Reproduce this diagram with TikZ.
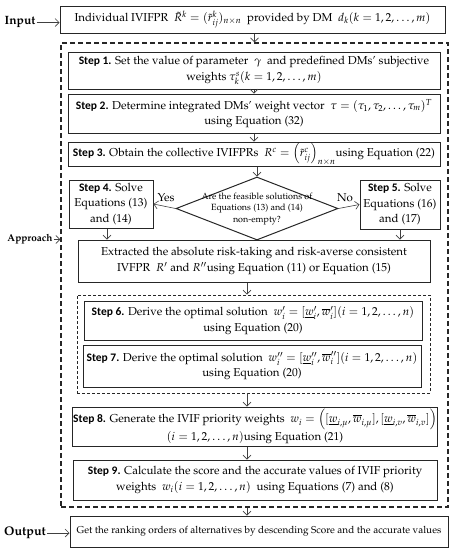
\documentclass[tikz,border=0pt]{standalone}
\usepackage{fontspec}
\newfontfamily\stepfont{Carlito}
\usepackage[T1]{fontenc}
\usepackage{mathpazo}
\usetikzlibrary{arrows.meta,shapes.geometric}
\newcommand\stp[1]{{\stepfont\bfseries #1}}
\begin{document}
\begin{tikzpicture}[x=1pt,y=-1pt,
  box/.style={draw=black!85, line width=1pt, align=center, inner sep=1pt, font=\fontsize{11.5}{15.5}\selectfont},
  arr/.style={-{Straight Barb[length=4pt,width=8pt]}, line width=0.6pt, draw=black!75},
  outerdash/.style={draw=black!85, line width=1.4pt, dash pattern=on 5pt off 3pt},
  innerdash/.style={draw=black!85, line width=0.9pt, dash pattern=on 3pt off 2pt},
  lab/.style={font=\fontsize{12}{14}\selectfont\bfseries, inner sep=1pt},
  yn/.style={font=\fontsize{11.5}{14}\selectfont, inner sep=0pt}]
\useasboundingbox (0,0) rectangle (453,550);
% outer dashed frame
\node[outerdash, minimum width=387pt, minimum height=464pt, inner sep=0pt] (outer) at (254.5,275) {};
% input
\node[box, minimum width=385pt, minimum height=27pt] (in) at (252.5,19.5) {Individual IVIFPR \ $\tilde{R}^{k}=(\tilde{r}_{ij}^{k})_{n\times n}$ \ provided by DM \ $d_k(k=1,2,\dots,m)$};
\node[lab] (inlab) at (20,22.5) {Input};
% steps
\node[box, minimum width=372pt, minimum height=37pt] (s1) at (254,70.5) {\stp{Step 1.} Set the value of parameter \ $\gamma$ \ and predefined DMs' subjective\\ weights $\tau_k^s(k=1,2,\dots,m)$};
\node[box, minimum width=372pt, minimum height=39pt] (s2) at (254,113.5) {\stp{Step 2.} Determine integrated DMs' weight vector \ $\tau=(\tau_1,\tau_2,\dots,\tau_m)^T$\\ using Equation (32)};
\node[box, minimum width=372pt, minimum height=24pt] (s3) at (254,154) {\stp{Step 3.} Obtain the collective IVIFPRs \ $R^c=\left(\tilde{r}_{ij}^c\right)_{n\times n}$using Equation (22)};
\node[draw=black!85, line width=1pt, diamond, minimum width=162pt, minimum height=63pt, inner sep=0pt] (dia) at (257,208.5) {};
\node[align=center, font=\fontsize{9}{11.5}\selectfont, inner sep=0pt] (diatext) at (257,209) {Are the feasible solutions of\\ Equations (13) and (14)\\ non-empty?};
\node[box, minimum width=84pt, minimum height=48pt] (s4) at (111,204) {\stp{Step 4.} Solve\\ Equations (13)\\ and (14)};
\node[box, minimum width=80pt, minimum height=49pt] (s5) at (400,204.5) {\stp{Step 5.} Solve\\ Equations (16)\\ and (17)};
\node[box, minimum width=352pt, minimum height=42pt] (ex) at (254,261) {Extracted the absolute risk-taking and risk-averse consistent\\ IVFPR \ $R'$ and $R''$using Equation (11) or Equation (15)};
\node[innerdash, minimum width=353pt, minimum height=98pt, inner sep=0pt] (inner) at (253.5,344) {};
\node[box, minimum width=338pt, minimum height=39pt] (s6) at (253,320.5) {\stp{Step 6.} Derive the optimal solution \ $w_i'=[\underline{w}_i',\overline{w}_i'](i=1,2,\dots,n)$\\ using Equation (20)};
\node[box, minimum width=338pt, minimum height=42pt] (s7) at (252,366) {\stp{Step 7.} Derive the optimal solution \ $w_i''=[\underline{w}_i'',\overline{w}_i''](i=1,2,\dots,n)$\\ using Equation (20)};
\node[box, minimum width=364pt, minimum height=39pt] (s8) at (255,426.5) {\stp{Step 8.} Generate the IVIF priority weights \ $w_i=\left([\underline{w}_{i,\mu},\overline{w}_{i,\mu}],[\underline{w}_{i,v},\overline{w}_{i,v}]\right)$\\ $(i=1,2,\dots,n)$using Equation (21)};
\node[box, minimum width=364pt, minimum height=40pt] (s9) at (255,480) {\stp{Step 9.} Calculate the score and the accurate values of IVIF priority\\ weights \ $w_i(i=1,2,\dots,n)$ \ using Equations (7) and (8)};
\node[box, minimum width=378pt, minimum height=31pt, font=\fontsize{10}{13}\selectfont] (out) at (259,531.5) {Get the ranking orders of alternatives by descending Score and the accurate values};
\node[lab, font=\fontsize{10}{12}\selectfont\bfseries] (aplab) at (30,239.5) {Approach};
\node[lab, font=\fontsize{12.5}{14}\selectfont\bfseries] (outlab) at (25,533) {Output};
\node[yn] (yes) at (166,198) {Yes};
\node[yn] (no) at (345,198) {No};
\coordinate (ax) at (247,0);
% connectors
\draw[arr] (inlab.east) -- (in.west |- inlab.east);
\draw[arr] (aplab.east) -- (outer.west |- aplab.east);
\draw[arr] (outlab.east) -- (out.west |- outlab.east);
\draw[arr] (outer.north |- in.south) -- (outer.north);
\draw[arr] (s1.south) -- (s2.north);
\draw[arr] (s2.south) -- (s3.north);
\draw[arr] (dia.north |- s3.south) -- (dia.north);
\draw[arr] (dia.west) -- (s4.east);
\draw[arr] (dia.east) -- (s5.west);
\draw[arr] ([xshift=-4pt]s4.south) -- ([xshift=-4pt]s4.south |- ex.north);
\draw[arr] (s5.south) -- (s5.south |- ex.north);
\draw[arr] (ax |- ex.south) -- (ax |- inner.north);
\draw[arr] (ax |- inner.south) -- (ax |- s8.north);
\draw[arr] (ax |- s8.south) -- (ax |- s9.north);
\draw[arr] (ax |- outer.south) -- (ax |- out.north);
\end{tikzpicture}
\end{document}
